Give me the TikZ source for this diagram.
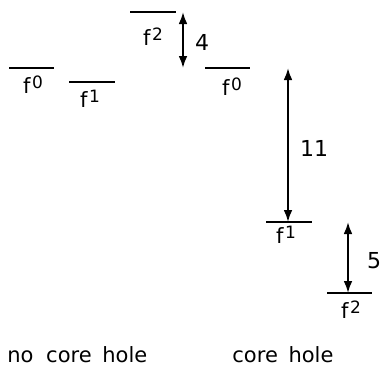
\documentclass[tikz,border=0pt]{standalone}
\usepackage{fontspec}
\setmainfont{DejaVu Sans}
\usetikzlibrary{arrows.meta, positioning}

\newcommand{\fconf}[1]{f\kern0.8pt\raisebox{2.3pt}{\fontsize{8.5}{9}\selectfont #1}}

\begin{document}
\begin{tikzpicture}[
        x=0.5pt, y=-0.5pt,
        level/.style={line width=1pt},
        dbl/.style={{Latex[length=6pt,width=4.4pt]}-{Latex[length=6pt,width=4.4pt]}, line width=1pt},
        lab/.style={font=\fontsize{10.5}{12}\selectfont, inner sep=0pt, anchor=base},
        gap/.style={font=\fontsize{11}{12}\selectfont, inner sep=0pt},
        captext/.style={font=\fontsize{10.5}{12}\selectfont, inner sep=0pt, anchor=base west},
    ]
    \useasboundingbox (0,0) rectangle (383,366);

    %% ---- no core hole ----
    \coordinate (n0l) at (9,68);    \coordinate (n0r) at (54,68);
    \coordinate (n1l) at (69,82);   \coordinate (n1r) at (115,82);
    \coordinate (n2l) at (130,12);  \coordinate (n2r) at (176,12);
    \draw[level] (n0l) -- (n0r);
    \draw[level] (n1l) -- (n1r);
    \draw[level] (n2l) -- (n2r);
    \node[lab] (n0) at (33,93) {\fconf{0}};
    \node[lab] (n1) at (90,107) {\fconf{1}};
    \node[lab] (n2) at (153,45) {\fconf{2}};

    % gap f2 - f0
    \coordinate (a4t) at (183,12);
    \coordinate (a4b) at (183,68);
    \draw[dbl] (a4t) -- (a4b);
    \node[gap] (g4) at (202,42) {4};

    %% ---- core hole ----
    \coordinate (c0l) at (205,68);  \coordinate (c0r) at (250,68);
    \coordinate (c1l) at (266,222); \coordinate (c1r) at (312,222);
    \coordinate (c2l) at (327,293); \coordinate (c2r) at (372,293);
    \draw[level] (c0l) -- (c0r);
    \draw[level] (c1l) -- (c1r);
    \draw[level] (c2l) -- (c2r);
    \node[lab] (c0) at (232,95) {\fconf{0}};
    \node[lab] (c1) at (286,243) {\fconf{1}};
    \node[lab] (c2) at (351,318) {\fconf{2}};

    % gaps f0 - f1 - f2
    \coordinate (a11t) at (288,68);
    \coordinate (a11b) at (288,222);
    \draw[dbl] (a11t) -- (a11b);
    \node[gap] (g11) at (314,148) {11};
    \coordinate (a5t) at (348,222);
    \coordinate (a5b) at (348,293);
    \draw[dbl] (a5t) -- (a5b);
    \node[gap] (g5) at (374,261) {5};

    %% ---- captions ----
    \node[captext] (nch) at (7,362) {no\hspace{3pt} core\hspace{2pt} hole};
    \node[captext] (ch) at (232,362) {core\hspace{2pt} hole};
\end{tikzpicture}
\end{document}
